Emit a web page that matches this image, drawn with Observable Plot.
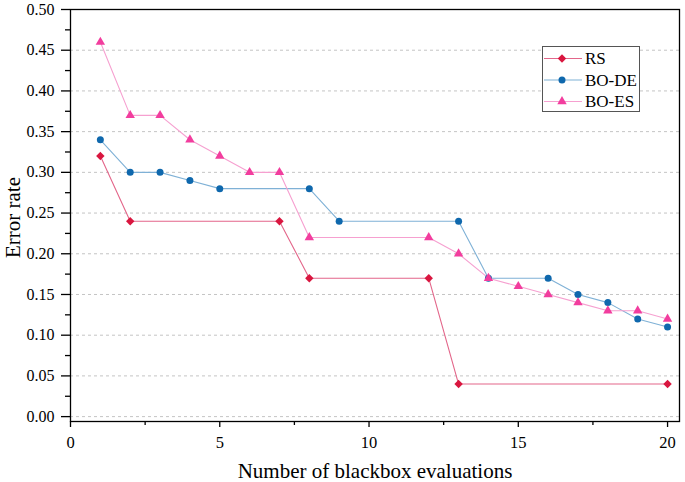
<!DOCTYPE html>
<html><head><meta charset="utf-8">
<script src="https://cdn.jsdelivr.net/npm/d3@7"></script>
<script src="https://cdn.jsdelivr.net/npm/@observablehq/plot@0.6"></script>
<style>
body{margin:0;background:#fff;}
#wrap{position:relative;width:685px;height:482px;font-family:"Liberation Serif","Times New Roman",serif;}
#legend{position:absolute;left:542px;top:46px;}
</style></head><body><div id="wrap"></div>
<script>
// ---- data ----
const seriesNames = ["RS", "BO-DE", "BO-ES"];
const rsX = [1, 2, 7, 8, 12, 13, 20];
const rsY = [0.32, 0.24, 0.24, 0.17, 0.17, 0.04, 0.04];
const deX = [1, 2, 3, 4, 5, 8, 9, 13, 14, 16, 17, 18, 19, 20];
const deY = [0.34, 0.30, 0.30, 0.29, 0.28, 0.28, 0.24, 0.24, 0.17, 0.17, 0.15, 0.14, 0.12, 0.11];
const esX = [1, 2, 3, 4, 5, 6, 7, 8, 12, 13, 14, 15, 16, 17, 18, 19, 20];
const esY = [0.46, 0.37, 0.37, 0.34, 0.32, 0.30, 0.30, 0.22, 0.22, 0.20, 0.17, 0.16, 0.15, 0.14, 0.13, 0.13, 0.12];
const xTicks = [0, 5, 10, 15, 20];
const xMinorTicks = [2.5, 7.5, 12.5, 17.5];
const yTicks = [0, 0.05, 0.10, 0.15, 0.20, 0.25, 0.30, 0.35, 0.40, 0.45, 0.50];
const yMinorTicks = [0.025, 0.075, 0.125, 0.175, 0.225, 0.275, 0.325, 0.375, 0.425, 0.475];
const xLabel = "Number of blackbox evaluations";
const yLabel = "Error rate";

// ---- styles ----
const styles = {
  "RS":    {line: "#e3668a", mark: "#d9163f", symbol: "diamond2", r: 3.8},
  "BO-DE": {line: "#7fb1d6", mark: "#0f68ad", symbol: "circle",   r: 3.5},
  "BO-ES": {line: "#f6a0d0", mark: "#f23d9e", symbol: "triangle", r: 3.5}
};
const toRows = (xs, ys) => xs.map((x, i) => ({x, y: ys[i]}));
const series = [
  {name: seriesNames[0], rows: toRows(rsX, rsY)},
  {name: seriesNames[1], rows: toRows(deX, deY)},
  {name: seriesNames[2], rows: toRows(esX, esY)}
];

const marks = [
  Plot.ruleY(yTicks.filter(d => d < 0.5), {stroke: "#c4c4c4", strokeDasharray: "3,3", strokeWidth: 1})
];
for (const s of series) {
  const st = styles[s.name];
  marks.push(Plot.line(s.rows, {x: "x", y: "y", stroke: st.line, strokeWidth: 1.1}));
}
for (const s of series) {
  const st = styles[s.name];
  marks.push(Plot.dot(s.rows, {x: "x", y: "y", fill: st.mark, stroke: "none", symbol: st.symbol, r: st.r}));
}
marks.push(
  Plot.frame({stroke: "#000", strokeWidth: 1.3}),
  Plot.axisX({ticks: xTicks, tickSize: 6, tickPadding: 9, fontSize: 16.5, label: null, strokeWidth: 1.3}),
  Plot.axisX({ticks: xMinorTicks, tickSize: 4, tickFormat: () => "", label: null, strokeWidth: 1.3}),
  Plot.axisY({ticks: yTicks, tickFormat: ".2f", tickSize: 9, tickPadding: 7, fontSize: 16, label: null, strokeWidth: 1.3}),
  Plot.axisY({ticks: yMinorTicks, tickSize: 5, tickFormat: () => "", label: null, strokeWidth: 1.3}),
  Plot.text([xLabel], {text: d => d, frameAnchor: "bottom", dy: 50, fontSize: 21, lineAnchor: "middle"}),
  Plot.text([yLabel], {text: d => d, frameAnchor: "left", textAnchor: "middle", dx: -57, dy: 2, rotate: -90, fontSize: 21, lineAnchor: "middle"})
);

const chart = Plot.plot({
  width: 685, height: 482,
  marginLeft: 70, marginRight: 6, marginTop: 9, marginBottom: 61,
  style: {fontFamily: "'Liberation Serif','Times New Roman',serif", background: "#fff", color: "#000", fontSize: "16px"},
  x: {domain: [0, 20.4]},
  y: {domain: [-0.006, 0.5]},
  marks
});
const wrap = document.getElementById("wrap");
wrap.appendChild(chart);

// ---- legend ----
const lg = d3.select(wrap).append("svg").attr("id", "legend")
  .attr("width", 98).attr("height", 66)
  .style("font-family", "'Liberation Serif','Times New Roman',serif");
lg.append("rect").attr("x", 0.5).attr("y", 0.5).attr("width", 97).attr("height", 65)
  .attr("fill", "#fff").attr("stroke", "#555").attr("stroke-width", 1);
const symMap = {diamond2: d3.symbolDiamond2, circle: d3.symbolCircle, triangle: d3.symbolTriangle};
seriesNames.forEach((name, i) => {
  const st = styles[name];
  const cy = 12.5 + i * 21.5;
  lg.append("line").attr("x1", 2).attr("x2", 40).attr("y1", cy).attr("y2", cy)
    .attr("stroke", st.line).attr("stroke-width", 1.1);
  lg.append("path").attr("transform", `translate(20,${cy})`)
    .attr("d", d3.symbol(symMap[st.symbol], Math.PI * st.r * st.r)())
    .attr("fill", st.mark);
  lg.append("text").attr("x", 43).attr("y", cy).attr("dy", "0.35em")
    .attr("font-size", 17).text(name);
});
</script></body></html>
